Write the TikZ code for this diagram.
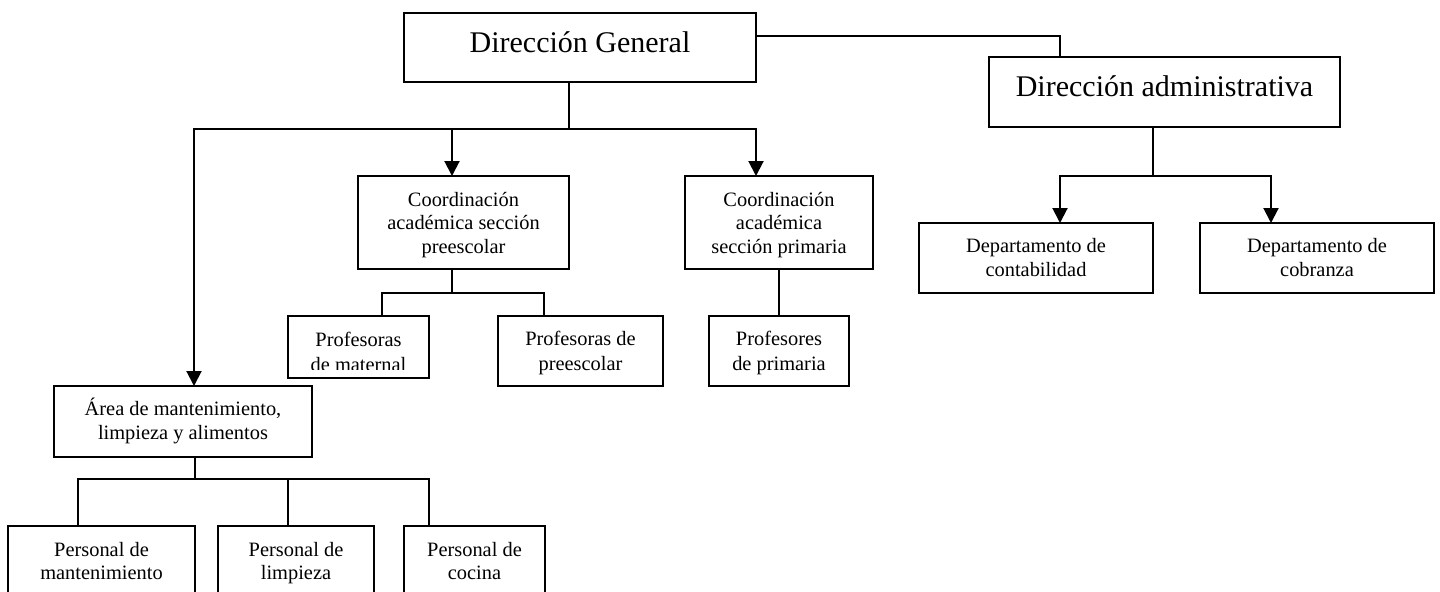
\documentclass[tikz,border=0pt]{standalone}
\usepackage{fontspec}
\setmainfont{Liberation Serif}
\usetikzlibrary{arrows.meta}
\begin{document}
\begin{tikzpicture}[x=0.5pt,y=-0.5pt,
  box/.style={draw,line width=1pt,inner sep=0pt,outer sep=0pt,minimum height=35pt},
  big/.style={font=\fontsize{15}{18}\selectfont,inner sep=0pt},
  small/.style={font=\fontsize{10.2}{11.7}\selectfont,align=center,inner sep=0pt},
  prof/.style={font=\fontsize{10.2}{12.6}\selectfont,align=center,inner sep=0pt},
  conn/.style={line width=1pt},
  arr/.style={conn,-{Triangle[length=7.5pt,width=7.5pt]}}]
\useasboundingbox (0,0) rectangle (1440,591);
\clip (0,0) rectangle (1440,591);

% boxes
\node[box,minimum width=176pt,minimum height=34.5pt] (dg) at (580,47.5) {};
\node[box,minimum width=175.5pt] (da) at (1164.5,92) {};
\node[box,minimum width=105.5pt,minimum height=46.5pt] (cpre) at (463.5,222.5) {};
\node[box,minimum width=94pt,minimum height=46.5pt] (cpri) at (779,222.5) {};
\node[box,minimum width=70.5pt,minimum height=31pt] (pmat) at (358.5,347) {};
\node[box,minimum width=82.5pt] (ppre) at (580.5,351) {};
\node[box,minimum width=70pt] (ppri) at (779,351) {};
\node[box,minimum width=117pt] (dcon) at (1036,258) {};
\node[box,minimum width=117pt] (dcob) at (1317,258) {};
\node[box,minimum width=129pt,minimum height=35.5pt] (area) at (183,421.5) {};
\node[box,minimum width=93.5pt] (pman) at (101.5,561) {};
\node[box,minimum width=78pt] (plim) at (296,561) {};
\node[box,minimum width=70.5pt] (pcoc) at (474.5,561) {};

% texts
\node[big] (tdg) at (580,42) {Dirección General};
\node[big] (tda) at (1164.5,86.6) {Dirección administrativa};
\node[small] (tcpre) at (463.5,225) {Coordinación\\académica sección\\preescolar};
\node[small] (tcpri) at (779,225) {Coordinación\\académica\\sección primaria};
\begin{scope}
  \clip (288,316) rectangle (429,369);
  \node[prof] (tpmat) at (358.5,351.6) {Profesoras\\de maternal};
\end{scope}
\node[prof] (tppre) at (580.5,352.7) {Profesoras de\\preescolar};
\node[prof] (tppri) at (779,352.7) {Profesores\\de primaria};
\node[small] (tdcon) at (1036,257.5) {Departamento de\\contabilidad};
\node[small] (tdcob) at (1317,257.5) {Departamento de\\cobranza};
\node[small] (tarea) at (183,421) {Área de mantenimiento,\\limpieza y alimentos};
\node[small] (tpman) at (101.5,561) {Personal de\\mantenimiento};
\node[small] (tplim) at (296,563) {Personal de\\limpieza};
\node[small] (tpcoc) at (474.5,561) {Personal de\\cocina};

% junction coordinates
\coordinate (hM) at (569,129);
\coordinate (hL) at (194,129);
\coordinate (hA) at (452,129);
\coordinate (hR) at (756,129);
\coordinate (daJ) at (1060,35.7);
\coordinate (dJ) at (1153,176);
\coordinate (dL) at (1060,176);
\coordinate (dR) at (1271,176);
\coordinate (cJ) at (452,293);
\coordinate (cL) at (382,293);
\coordinate (cR) at (544,293);
\coordinate (pJ) at (779,293);
\coordinate (aJ) at (195,479);
\coordinate (aL) at (78,479);
\coordinate (aM) at (288,479);
\coordinate (aR) at (429,479);

% connectors
\draw[arr] (dg.south -| hM) -- (hM) -| (area.north -| hL);
\draw[arr] (hM) -| (cpri.north -| hR);
\draw[arr] (hA) -- (cpre.north -| hA);
\draw[conn] (dg.east |- daJ) -- (daJ) -- (da.north -| daJ);
\draw[arr] (da.south -| dJ) -- (dJ) -| (dcon.north -| dL);
\draw[arr] (dJ) -| (dcob.north -| dR);
\draw[conn] (cpre.south -| cJ) -- (cJ) -| (pmat.north -| cL);
\draw[conn] (cJ) -| (ppre.north -| cR);
\draw[conn] (cpri.south -| pJ) -- (ppri.north -| pJ);
\draw[conn] (area.south -| aJ) -- (aJ) -| (pman.north -| aL);
\draw[conn] (aJ) -| (pcoc.north -| aR);
\draw[conn] (aM) -- (plim.north -| aM);
\end{tikzpicture}
\end{document}
